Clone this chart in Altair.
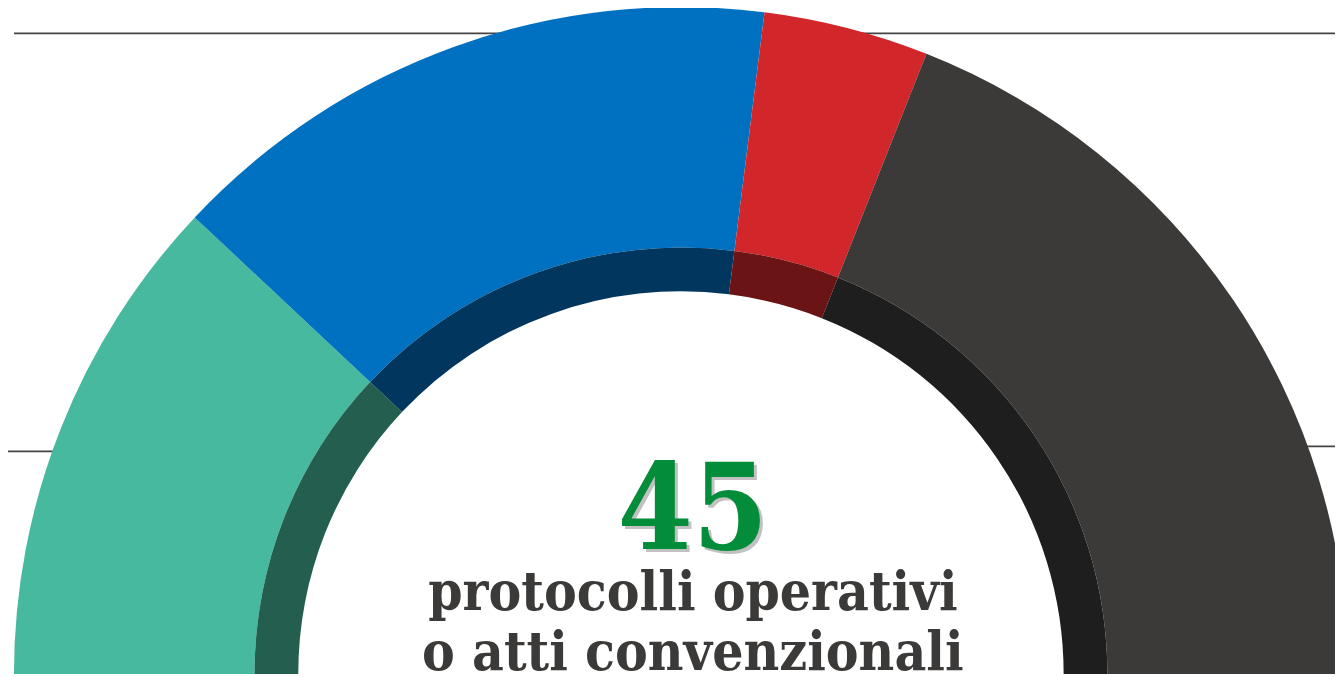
import math
import altair as alt
import pandas as pd

# ---- data ----
categories = ["A", "B", "C", "D"]
values = [24, 30, 8, 38]
colors_main = ["#46B99E", "#0071C1", "#D1262A", "#3C3A38"]
colors_dark = ["#235E4F", "#01375F", "#6B1416", "#1E1E1E"]
total_label = ["45"]
subtitle_lines = ["protocolli operativi", "o atti convenzionali"]

df = pd.DataFrame({"cat": categories, "cat2": categories, "value": values,
                   "order": list(range(len(categories)))})
total = sum(values)

W, H = 1335, 669
CX, CY = 677, 668
R_OUT, R_MID, R_IN = 671, 429, 385

theta = alt.Theta("value:Q", stack=True,
                  scale=alt.Scale(domain=[0, total], range=[-math.pi / 2, math.pi / 2]))

outer = alt.Chart(df).mark_arc(radius=R_OUT, radius2=R_MID).encode(
    theta=theta,
    order=alt.Order("order:Q"),
    color=alt.Color("cat:N", scale=alt.Scale(domain=categories, range=colors_main), legend=None),
    x=alt.value(CX), y=alt.value(CY),
)
inner = alt.Chart(df).mark_arc(radius=R_MID, radius2=R_IN).encode(
    theta=theta,
    order=alt.Order("order:Q"),
    fill=alt.Fill("cat2:N", scale=alt.Scale(domain=categories, range=colors_dark), legend=None),
    x=alt.value(CX), y=alt.value(CY),
)

line_df = pd.DataFrame({"k": [0]})
top_rule = alt.Chart(line_df).mark_rule(color="#444444", strokeWidth=1.6).encode(
    x=alt.value(6), x2=alt.value(W), y=alt.value(23.5)
)
low_rule_left = alt.Chart(line_df).mark_rule(color="#444444", strokeWidth=1.6).encode(
    x=alt.value(0), x2=alt.value(80), y=alt.value(444)
)
low_rule_right = alt.Chart(line_df).mark_rule(color="#444444", strokeWidth=1.6).encode(
    x=alt.value(1270), x2=alt.value(W), y=alt.value(439)
)

num_df = pd.DataFrame({"t": total_label})
FONT = "'DejaVu Serif Condensed', 'DejaVu Serif', serif"
num_shadow = alt.Chart(num_df).mark_text(
    font=FONT, fontSize=121, fontWeight="bold", color="#777777", opacity=0.45,
    align="center", baseline="alphabetic"
).encode(text="t:N", x=alt.value(692), y=alt.value(545))
num = alt.Chart(num_df).mark_text(
    font=FONT, fontSize=121, fontWeight="bold", color="#038C3A",
    align="center", baseline="alphabetic"
).encode(text="t:N", x=alt.value(689), y=alt.value(542))

sub_df = pd.DataFrame({"t": subtitle_lines, "i": [0, 1]})
sub1 = alt.Chart(sub_df).transform_filter("datum.i == 0").mark_text(
    font=FONT, fontSize=55, fontWeight="bold", color="#3C3A38",
    align="center", baseline="alphabetic"
).encode(text="t:N", x=alt.value(689), y=alt.value(604))
sub2 = alt.Chart(sub_df).transform_filter("datum.i == 1").mark_text(
    font=FONT, fontSize=55, fontWeight="bold", color="#3C3A38",
    align="center", baseline="alphabetic"
).encode(text="t:N", x=alt.value(689), y=alt.value(664))

chart = alt.layer(top_rule, low_rule_left, low_rule_right, outer, inner,
                  num_shadow, num, sub1, sub2).resolve_scale(
    color="independent", fill="independent"
).properties(
    width=W, height=H, padding=0, background="white",
    autosize=alt.AutoSizeParams(type="none")
).configure_view(strokeWidth=0, stroke="transparent")

chart.save("out.html", embed_options={"renderer": "svg", "actions": False})
